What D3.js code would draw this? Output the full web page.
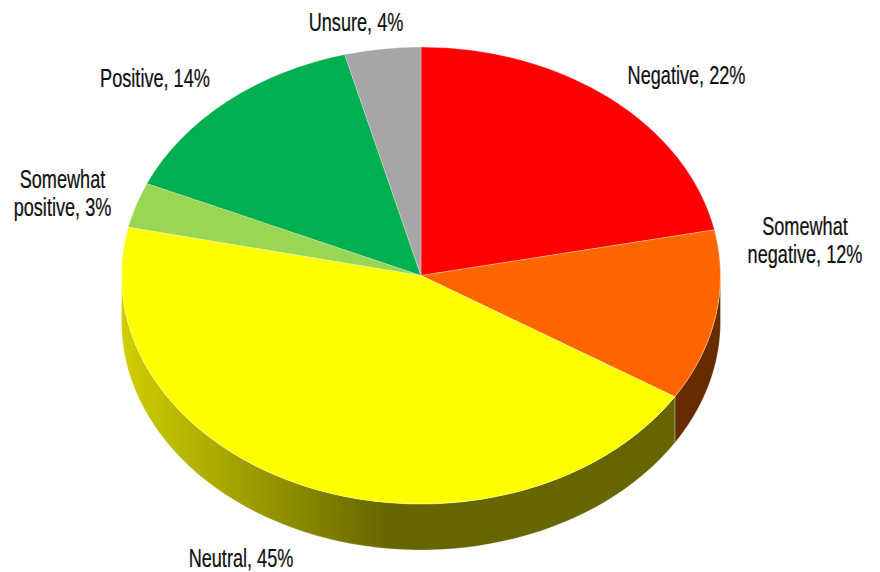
<!DOCTYPE html>
<html>
<head>
<meta charset="utf-8">
<script src="https://cdn.jsdelivr.net/npm/d3@7.9.0/dist/d3.min.js"></script>
<style>
  html, body { margin: 0; padding: 0; background: #fff; }
  svg { display: block; }
  text { font-family: "Liberation Sans", sans-serif; font-size: 25px; fill: #111; stroke: #111; stroke-width: 0.25px; }
</style>
</head>
<body>
<svg width="880" height="572"></svg>
<script>
// slices clockwise from 12 o'clock
const categories = ['Negative', 'Somewhat negative', 'Neutral', 'Somewhat positive', 'Positive', 'Unsure'];
const labelPercents = [22, 12, 45, 3, 14, 4];
// shares (the printed labels are rounded)
const shares = [21.8, 12.1, 44.5, 3.2, 14.3, 4.1];
const topColors = ['#ff0000', '#ff6600', '#ffff00', '#99d653', '#00b050', '#a6a6a6'];
const wallColors = ['#660000', '#662c00', 'url(#neutralWall)', '#3d5621', '#004620', '#424242'];

const cx = 421, cy = 275.5, rx = 299.5, ry = 228.5, depth = 46;
const edge = 'rgba(255,255,255,0.35)';

const svg = d3.select('svg');

// yellow wall goes from lit on the left to flat dark olive
const grad = svg.append('defs').append('linearGradient')
    .attr('id', 'neutralWall')
    .attr('gradientUnits', 'userSpaceOnUse')
    .attr('x1', 122).attr('x2', 388).attr('y1', 0).attr('y2', 0);
grad.append('stop').attr('offset', 0).attr('stop-color', '#cfcf00');
grad.append('stop').attr('offset', 1).attr('stop-color', '#666600');

const topColor = d3.scaleOrdinal().domain(categories).range(topColors);
const wallColor = d3.scaleOrdinal().domain(categories).range(wallColors);

const slices = d3.pie().sort(null).value((d, i) => shares[i])(categories);
const arc = d3.arc().innerRadius(0).outerRadius(rx);

// front wall of a slice: only the part of its rim between 3 and 9 o'clock shows
function wallPath(d) {
    const a0 = Math.max(d.startAngle, Math.PI / 2);
    const a1 = Math.min(d.endAngle, Math.PI * 3 / 2);
    if (a1 <= a0) return null;
    const rim = d3.range(0, 61).map(i => a0 + (a1 - a0) * i / 60);
    return d3.area()
        .x(a => cx + rx * Math.sin(a))
        .y0(a => cy - ry * Math.cos(a))
        .y1(a => cy - ry * Math.cos(a) + depth)(rim);
}

svg.append('g').selectAll('path')
    .data(slices)
    .join('path')
    .attr('d', wallPath)
    .attr('fill', d => wallColor(d.data))
    .attr('stroke', edge)
    .attr('stroke-width', 0.8);

svg.append('g')
    .attr('transform', `translate(${cx},${cy}) scale(1,${ry / rx})`)
    .selectAll('path')
    .data(slices)
    .join('path')
    .attr('d', arc)
    .attr('fill', d => topColor(d.data))
    .attr('stroke', edge)
    .attr('stroke-width', 0.8)
    .attr('vector-effect', 'non-scaling-stroke');

// label lines and their spots, same order as categories
const labelLines = categories.map((c, i) => {
    const txt = `${c}, ${labelPercents[i]}%`;
    return c.startsWith('Somewhat ') ? ['Somewhat', txt.slice(9)] : [txt];
});
const labelSpots = [[686.5, 84], [805, 235], [241, 567], [62.5, 188], [155, 87], [356, 31]];

// no condensed face is installed, so squeeze the text sideways
svg.append('g').selectAll('text')
    .data(labelLines)
    .join('text')
    .attr('text-anchor', 'middle')
    .attr('transform', (d, i) => `translate(${labelSpots[i][0]},${labelSpots[i][1]}) scale(0.725,1)`)
    .selectAll('tspan')
    .data(d => d)
    .join('tspan')
    .attr('x', 0)
    .attr('dy', (d, i) => i ? 28 : 0)
    .text(d => d);
</script>
</body>
</html>
